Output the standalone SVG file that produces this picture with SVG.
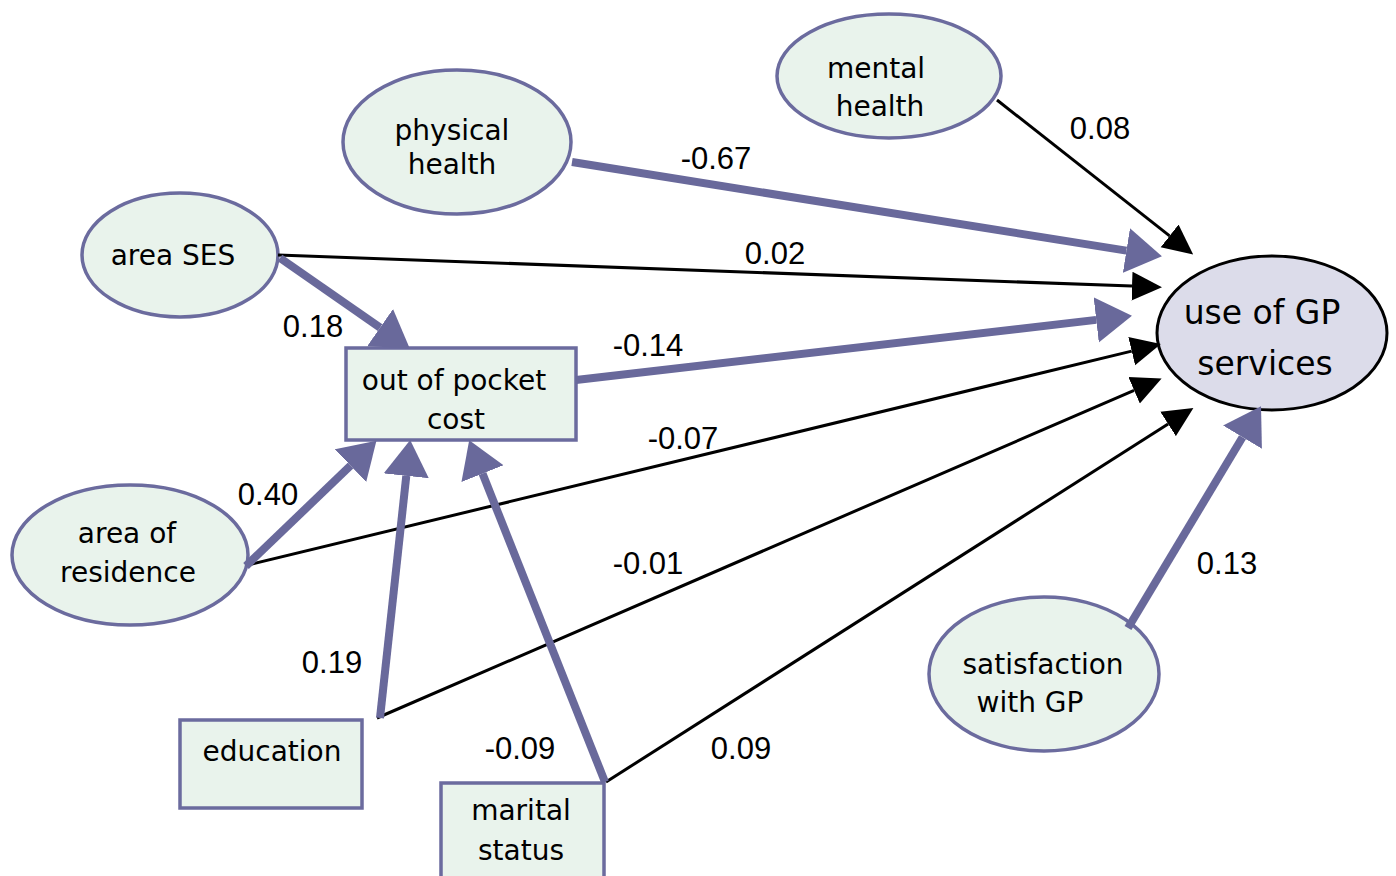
<svg xmlns="http://www.w3.org/2000/svg" width="1396" height="876" viewBox="0 0 1396 876">
<style>
.n{fill:#e9f3ec;stroke:#6b6b9e;stroke-width:3.5}
.t{font-family:"DejaVu Sans","Noto Sans",sans-serif;font-size:28px;fill:#000;text-anchor:middle}
.l{font-family:"Liberation Sans",Arial,sans-serif;font-size:31px;fill:#000;text-anchor:middle}
.thin{stroke:#000;stroke-width:3;fill:none;marker-end:url(#hb)}
.thick{stroke:#69699b;stroke-width:8;fill:none;marker-end:url(#hp)}
</style>
<defs>
<marker id="hb" markerUnits="userSpaceOnUse" markerWidth="30" markerHeight="30" refX="0" refY="13" orient="auto" viewBox="0 0 27 26">
<path d="M0,0 L27,13 L0,26 z" fill="#000"/>
</marker>
<marker id="hp" markerUnits="userSpaceOnUse" markerWidth="36" markerHeight="46" refX="0" refY="22" orient="auto" viewBox="0 0 35 44">
<path d="M0,0 L35,22 L0,44 z" fill="#69699b"/>
</marker>
</defs>
<rect width="1396" height="876" fill="#fff"/>
<g id="mental-health"><ellipse class="n" cx="889" cy="76" rx="112" ry="62"/><text class="t" x="876" y="78">mental</text><text class="t" x="880" y="116">health</text></g>
<g id="physical-health"><ellipse class="n" cx="457" cy="142" rx="114" ry="72"/><text class="t" x="452" y="140">physical</text><text class="t" x="452" y="174">health</text></g>
<g id="area-ses"><ellipse class="n" cx="180" cy="255" rx="98" ry="62"/><text class="t" x="173" y="265">area SES</text></g>
<g id="area-of-residence"><ellipse class="n" cx="130" cy="555" rx="118" ry="70"/><text class="t" x="127" y="543">area of</text><text class="t" x="128" y="582">residence</text></g>
<g id="satisfaction"><ellipse class="n" cx="1044" cy="674" rx="115" ry="77"/><text class="t" x="1043" y="674">satisfaction</text><text class="t" x="1030" y="712">with GP</text></g>
<g id="use-of-gp"><ellipse cx="1272" cy="333" rx="115" ry="77" fill="#dcdcea" stroke="#000" stroke-width="3"/><text class="t" x="1262" y="324" style="font-size:33px">use of GP</text><text class="t" x="1265" y="375" style="font-size:33px">services</text></g>
<g id="out-of-pocket"><rect class="n" x="346" y="348" width="230" height="92"/><text class="t" x="454" y="390">out of pocket</text><text class="t" x="456" y="429">cost</text></g>
<g id="education"><rect class="n" x="180" y="720" width="182" height="88"/><text class="t" x="272" y="761">education</text></g>
<g id="marital-status"><rect class="n" x="441" y="783" width="163" height="100"/><text class="t" x="521" y="820">marital</text><text class="t" x="521" y="860">status</text></g>
<g id="connectors">
<path class="thin" d="M997,100 L1169.6,235.9"/>
<path class="thick" d="M572,162 L1126.4,250.6"/>
<path class="thin" d="M278,255 L1132,286.1"/>
<path class="thick" d="M280,258 L380.1,327.6"/>
<path class="thick" d="M576,380 L1096.2,319.9"/>
<path class="thin" d="M248,565 L1131.7,351.1"/>
<path class="thin" d="M377,718 L1134.1,390.3"/>
<path class="thin" d="M606,782 L1168.1,424"/>
<path class="thick" d="M1128,628 L1242.5,437.2"/>
<path class="thick" d="M246,566 L350.5,465.6"/>
<path class="thick" d="M380,718 L406.3,475.8"/>
<path class="thick" d="M605,782 L482.5,473.6"/>
</g>
<g id="labels">
<text class="l" x="1100" y="139">0.08</text>
<text class="l" x="716" y="169">-0.67</text>
<text class="l" x="775" y="264">0.02</text>
<text class="l" x="313" y="337">0.18</text>
<text class="l" x="648" y="356">-0.14</text>
<text class="l" x="683" y="449">-0.07</text>
<text class="l" x="268" y="505">0.40</text>
<text class="l" x="648" y="574">-0.01</text>
<text class="l" x="1227" y="574">0.13</text>
<text class="l" x="332" y="673">0.19</text>
<text class="l" x="520" y="759">-0.09</text>
<text class="l" x="741" y="759">0.09</text>
</g>
</svg>
